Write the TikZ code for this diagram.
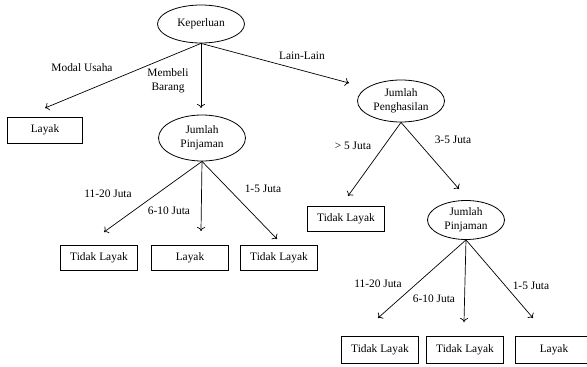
\documentclass[tikz,border=0pt]{standalone}
\usepackage{fontspec}
\setmainfont{Liberation Serif}
\usepackage{tikz}
\usetikzlibrary{shapes}
\usetikzlibrary{arrows.meta}
\tikzset{every node/.style={font=\fontsize{11.4}{13.5}\selectfont, align=center},
 attr/.style={draw, ellipse, inner sep=0pt, line width=.8pt},
 leaf/.style={draw, rectangle, inner sep=0pt, minimum height=25pt, line width=.8pt},
 arc/.style={-{To[length=4pt, width=8pt]}, line width=.7pt},
 }

\begin{document}
\begin{tikzpicture}[x=1pt, y=-1pt]
        \useasboundingbox (0,0) rectangle (587,367);
        % root and first level
        \node[attr, minimum width=87pt, minimum height=38pt] (keperluan) at (201,24) {Keperluan};
        \node[leaf, minimum width=75pt, minimum height=26pt] (layak1) at (45,130) {Layak};
        \node[attr, minimum width=87pt, minimum height=46pt] (pinjaman1) at (202,138) {Jumlah\\Pinjaman};
        \node[attr, minimum width=87pt, minimum height=42pt] (penghasilan) at (401,101) {Jumlah\\Penghasilan};
        \node[leaf, minimum width=77pt] (tidak1) at (346,219) {Tidak Layak};
        \node[attr, minimum width=77pt, minimum height=39pt] (pinjaman2) at (466,220) {Jumlah\\Pinjaman};
        % leaves
        \foreach \t/\x/\n in {Tidak Layak/99/tidak2, Layak/190/layak2, Tidak Layak/279/tidak3} {
            \node[leaf, minimum width=77pt] (\n) at (\x,258) {\t};
        }
        \foreach \t/\x/\n in {Tidak Layak/380/tidak4, Tidak Layak/465/tidak5, Layak/554/layak3} {
            \node[leaf, minimum width=77pt, minimum height=27pt] (\n) at (\x,350) {\t};
        }
        % arrow ends
        \coordinate (e1) at (45,108);
        \coordinate (e2) at (201,108);
        \coordinate (e3) at (349,83);
        \coordinate (e4) at (348,196);
        \coordinate (e5) at (459,189);
        \draw[arc] (keperluan.south) -- (e1);
        \draw[arc] (keperluan.south) -- (e2);
        \draw[arc] (keperluan.south) -- (e3);
        \draw[arc] (penghasilan.south) -- (e4);
        \draw[arc] (penghasilan.south) -- (e5);
        \foreach \x/\y/\i in {104/232/1, 201/231/2, 277/239/3} {
            \coordinate (p\i) at (\x,\y);
            \draw[arc] (pinjaman1.south) -- (p\i);
        }
        \foreach \x/\y/\i in {378/318/1, 464/322/2, 533/318/3} {
            \coordinate (q\i) at (\x,\y);
            \draw[arc] (pinjaman2.south) -- (q\i);
        }
        % labels
        \node (lmodal) at (82,68) {Modal Usaha};
        \node (lbeli) at (168,81) {Membeli\\Barang};
        \node (llain) at (302,56) {Lain-Lain};
        \node (llebih) at (353,146) {> 5 Juta};
        \node (ltiga) at (453,140) {3-5 Juta};
        \node (la1) at (108,194) {11-20 Juta};
        \node (la2) at (169,211) {6-10 Juta};
        \node (la3) at (263,189) {1-5 Juta};
        \node (lb1) at (378,284) {11-20 Juta};
        \node (lb2) at (434,299) {6-10 Juta};
        \node (lb3) at (531,286) {1-5 Juta};
    \end{tikzpicture}
\end{document}
